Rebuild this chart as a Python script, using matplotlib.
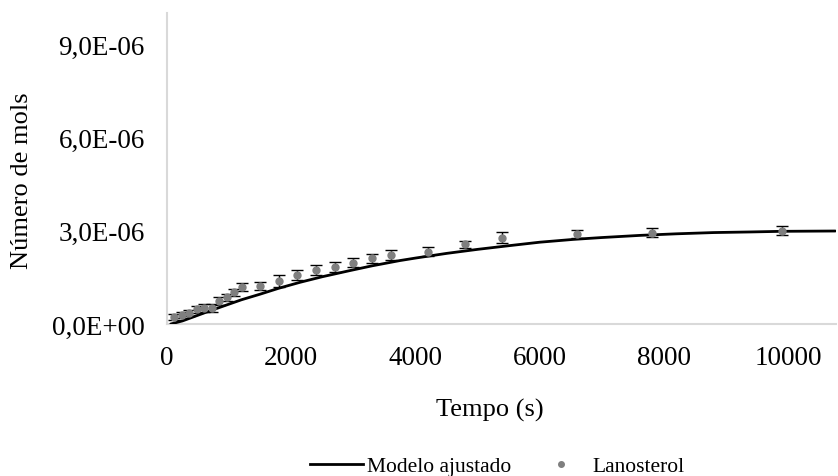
import matplotlib
matplotlib.use("Agg")
import matplotlib.pyplot as plt
from matplotlib.ticker import FuncFormatter, FixedLocator
from matplotlib.lines import Line2D

plt.rcParams['font.family'] = ['Liberation Serif', 'DejaVu Serif']

# Experimental measurements (time in s, moles)
tempo_exp = [120, 240, 360, 480, 600, 720, 840, 960, 1080, 1200, 1500, 1800,
             2100, 2400, 2700, 3000, 3300, 3600, 4200, 4800, 5400, 6600, 7800, 9900]
mols_exp = [0.22e-6, 0.29e-6, 0.36e-6, 0.47e-6, 0.51e-6, 0.52e-6, 0.74e-6, 0.86e-6,
            1.02e-6, 1.19e-6, 1.22e-6, 1.38e-6, 1.59e-6, 1.75e-6, 1.83e-6, 1.97e-6,
            2.11e-6, 2.22e-6, 2.33e-6, 2.56e-6, 2.77e-6, 2.89e-6, 2.94e-6, 3.00e-6]
erro_exp = [0.10e-6, 0.10e-6, 0.10e-6, 0.12e-6, 0.12e-6, 0.12e-6, 0.12e-6, 0.12e-6,
            0.12e-6, 0.13e-6, 0.14e-6, 0.18e-6, 0.16e-6, 0.16e-6, 0.16e-6, 0.15e-6,
            0.15e-6, 0.16e-6, 0.15e-6, 0.12e-6, 0.18e-6, 0.12e-6, 0.14e-6, 0.15e-6]

# Fitted model curve
tempo_modelo = [60, 250, 400, 700, 1000, 1200, 1500, 1800, 2140, 2500, 2950, 3300,
                3750, 4000, 4500, 5000, 5470, 6000, 6540, 7000, 7620, 8200, 8800,
                9400, 9900, 10760]
mols_modelo = [0.0, 0.10e-6, 0.21e-6, 0.43e-6, 0.64e-6, 0.78e-6, 0.96e-6, 1.15e-6,
               1.34e-6, 1.52e-6, 1.72e-6, 1.87e-6, 2.04e-6, 2.12e-6, 2.27e-6, 2.40e-6,
               2.51e-6, 2.63e-6, 2.72e-6, 2.78e-6, 2.85e-6, 2.90e-6, 2.94e-6,
               2.96e-6, 2.98e-6, 2.99e-6]

x_ticks = [0, 2000, 4000, 6000, 8000, 10000]
y_ticks = [0.0, 3.0e-6, 6.0e-6, 9.0e-6]

fig = plt.figure(figsize=(8.38, 4.77), dpi=100)
ax = fig.add_axes([167 / 838, 1 - 325 / 477, (836 - 167) / 838, (325 - 14) / 477])

ax.plot(tempo_modelo, mols_modelo, color='black', lw=2.0, zorder=3,
        solid_capstyle='round')
ax.errorbar(tempo_exp, mols_exp, yerr=erro_exp, fmt='o', color='#7f7f7f',
            ms=5, ecolor='black', elinewidth=1.0, capsize=4.2, capthick=1.0,
            zorder=4)

ax.set_xlim(0, 10770)
ax.set_ylim(0, 1.0e-5)
ax.xaxis.set_major_locator(FixedLocator(x_ticks))
ax.yaxis.set_major_locator(FixedLocator(y_ticks))


def sci_virgula(v, pos):
    s = f"{v:.1E}"
    mant, exp = s.split("E")
    sign = exp[0]
    digits = exp[1:].zfill(2)
    return f"{mant.replace('.', ',')}E{sign}{digits}"


ax.yaxis.set_major_formatter(FuncFormatter(sci_virgula))
ax.tick_params(axis='both', length=0, labelsize=19.5, colors='black')
ax.tick_params(axis='y', pad=16)
ax.tick_params(axis='x', pad=15)

for side in ('top', 'right'):
    ax.spines[side].set_visible(False)
for side in ('left', 'bottom'):
    ax.spines[side].set_color('#d9d9d9')
    ax.spines[side].set_linewidth(1.5)

ax.set_xlabel('Tempo (s)', fontsize=19, labelpad=22)
ax.set_ylabel('Número de mols', fontsize=19, labelpad=10)
ax.xaxis.set_label_coords((490 - 167) / 669, 1 - (410 - 14) / 311)
ax.yaxis.set_label_coords((22 - 167) / 669, (325 - 181) / 311)
ax.xaxis.label.set_va('center')
ax.yaxis.label.set_va('center')

handles = [
    Line2D([], [], color='black', lw=2.0),
    Line2D([], [], marker='o', ls='none', color='#7f7f7f', ms=4),
]
fig.legend(handles, ['Modelo ajustado', 'Lanosterol'], loc='center left',
           bbox_to_anchor=(310 / 838, 1 - 467 / 477), ncol=2, frameon=False,
           fontsize=15.5, handlelength=2.46, columnspacing=1.1,
           handletextpad=0.19, borderpad=0, borderaxespad=0)

fig.savefig('out.png', dpi=100)
